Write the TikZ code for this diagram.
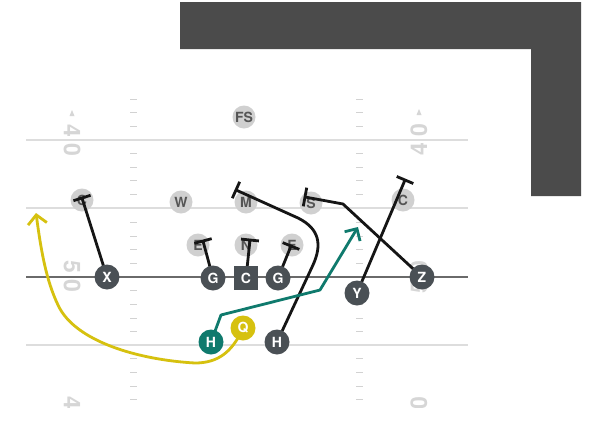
\documentclass[tikz,border=0pt]{standalone}
\usepackage{fontspec}
\setmainfont{TeX Gyre Heros}
\usetikzlibrary{arrows.meta,calc}
\definecolor{lshape}{HTML}{4B4B4B}
\definecolor{fieldline}{HTML}{DDDDDD}
\definecolor{losline}{HTML}{6A6A6A}
\definecolor{hashc}{HTML}{D2D2D2}
\definecolor{numc}{HTML}{D6D6D6}
\definecolor{defgray}{HTML}{D0D0D0}
\definecolor{deftext}{HTML}{555555}
\definecolor{offgray}{HTML}{4A5055}
\definecolor{teal}{HTML}{0F7A6D}
\definecolor{ylw}{HTML}{D6C10F}
\definecolor{routec}{HTML}{151515}
\begin{document}
\begin{tikzpicture}[x=1pt,y=-1pt,
  defn/.style={circle, fill=defgray, minimum size=23pt, inner sep=0pt, text=deftext, font=\bfseries\fontsize{14}{14}\selectfont},
  offn/.style={circle, fill=offgray, minimum size=25pt, inner sep=0pt, text=white, font=\bfseries\fontsize{14}{14}\selectfont},
  offsq/.style={rectangle, fill=offgray, minimum size=24pt, inner sep=0pt, text=white, font=\bfseries\fontsize{14}{14}\selectfont},
  numtxt/.style={text=numc, inner sep=0pt, font=\bfseries\fontsize{23}{23}\selectfont},
  route/.style={draw=routec, line width=2.8pt},
  barline/.style={draw=routec, line width=2.8pt},
  fline/.style={draw=fieldline, line width=1.2pt},
  hashline/.style={draw=hashc, line width=1pt}]
\useasboundingbox (0,0) rectangle (590,421);
\fill[white] (0,0) rectangle (590,421);
% dark L shape
\fill[lshape] (180,2) -- (581,2) -- (581,196) -- (531,196) -- (531,49) -- (180,49) -- cycle;
% field
\begin{scope}
\clip (0,90) rectangle (590,407);
\foreach \y in {140,208,345} { \draw[fline] (26,\y) -- (468,\y); }
\draw[draw=losline, line width=2pt] (26,277) -- (468,277);
\foreach \y in {99,112.5,126,153.5,167,180.5,194,222,236,249.5,263,290.5,304,318,331.5,358.5,372,386,399.5} {
  \draw[hashline] (130,\y) -- (137,\y);
  \draw[hashline] (356,\y) -- (363,\y);
}
\node[numtxt, rotate=-90] (l4a) at (72,131) {4};
\node[numtxt, rotate=-90] (l0a) at (72,150) {0};
\fill[numc] (72,110) -- (69.5,116) -- (74.5,116) -- cycle;
\node[numtxt, rotate=-90] (l5) at (72,267) {5};
\node[numtxt, rotate=-90] (l0b) at (72,286) {0};
\node[numtxt, rotate=-90] (l4b) at (72,403) {4};
\node[numtxt, rotate=90] (r0a) at (419,130) {0};
\node[numtxt, rotate=90] (r4a) at (419,149) {4};
\fill[numc] (419,109) -- (416.5,115) -- (421.5,115) -- cycle;
\node[numtxt, rotate=90] (r0b) at (419,267) {0};
\node[numtxt, rotate=90] (r5) at (419,287) {5};
\node[numtxt, rotate=90] (r0c) at (419,403) {0};
\end{scope}
% defense
\node[defn] (FS) at (244,117) {FS};
\node[defn] (CL) at (82,200) {C};
\node[defn] (W) at (181,202) {W};
\node[defn] (M) at (246,202) {M};
\node[defn] (S) at (311,203) {S};
\node[defn] (CR) at (403,200) {C};
\node[defn] (E1) at (198,245) {E};
\node[defn] (N) at (246,245) {N};
\node[defn] (E2) at (292,245) {E};
% offense positions
\coordinate (pX) at (107,277);
\coordinate (pGL) at (213,278);
\coordinate (pC) at (246,278);
\coordinate (pGR) at (278,278);
\coordinate (pY) at (357,293);
\coordinate (pZ) at (422,277);
\coordinate (pHt) at (211,342);
\coordinate (pQ) at (243,328);
\coordinate (pHd) at (277,342);
% route ends
\coordinate (eX) at (82,198);
\coordinate (eGL) at (203,241);
\coordinate (eC) at (250,240);
\coordinate (eGR) at (291,246);
\coordinate (eY) at (405,180);
\coordinate (kZ) at (343,204);
\coordinate (eZ) at (305,197);
\coordinate (kH1) at (313,265);
\coordinate (kH2) at (298,218);
\coordinate (eH) at (236,190);
\coordinate (kT1) at (221,315);
\coordinate (kT2) at (320,290);
\coordinate (eT) at (358,227);
\coordinate (eQ) at (36,213);
% block routes
\draw[route] (pX) -- (eX);
\draw[barline] ($(eX)!9pt!90:(pX)$) -- ($(eX)!9pt!-90:(pX)$);
\draw[route] (pGL) -- (eGL);
\draw[barline] ($(eGL)!9pt!90:(pGL)$) -- ($(eGL)!9pt!-90:(pGL)$);
\draw[route] (pC) -- (eC);
\draw[barline] ($(eC)!9pt!90:(pC)$) -- ($(eC)!9pt!-90:(pC)$);
\draw[route] (pGR) -- (eGR);
\draw[barline] ($(eGR)!9pt!90:(pGR)$) -- ($(eGR)!9pt!-90:(pGR)$);
\draw[route] (pY) -- (eY);
\draw[barline] ($(eY)!9pt!90:(pY)$) -- ($(eY)!9pt!-90:(pY)$);
\draw[route, line join=round] (pZ) -- (kZ) -- (eZ);
\draw[barline] ($(eZ)!9.5pt!90:(kZ)$) -- ($(eZ)!9.5pt!-90:(kZ)$);
\draw[route, line join=round] (pHd) -- (kH1) .. controls (322,245) and (320,229) .. (kH2) -- (eH);
\draw[barline] ($(eH)!9pt!90:(kH2)$) -- ($(eH)!9pt!-90:(kH2)$);
% teal route
\draw[draw=teal, line width=2.8pt, line join=round, -{Straight Barb[length=9pt,width=18pt]}] (pHt) -- (kT1) -- (kT2) -- (eT);
% yellow route
\draw[draw=ylw, line width=2.8pt, -{Straight Barb[length=9pt,width=19pt]}] (pQ) .. controls (232,353) and (217,363) .. (195,363) .. controls (140,360) and (75,342) .. (58,305) .. controls (46,280) and (41,250) .. (eQ);
% offense
\node[offn] (X) at (pX) {X};
\node[offn] (GL) at (pGL) {G};
\node[offsq] (C) at (pC) {C};
\node[offn] (GR) at (pGR) {G};
\node[offn] (Y) at (pY) {Y};
\node[offn] (Z) at (pZ) {Z};
\node[offn, fill=teal] (Ht) at (pHt) {H};
\node[offn, fill=ylw] (Q) at (pQ) {Q};
\node[offn] (Hd) at (pHd) {H};
\end{tikzpicture}
\end{document}
